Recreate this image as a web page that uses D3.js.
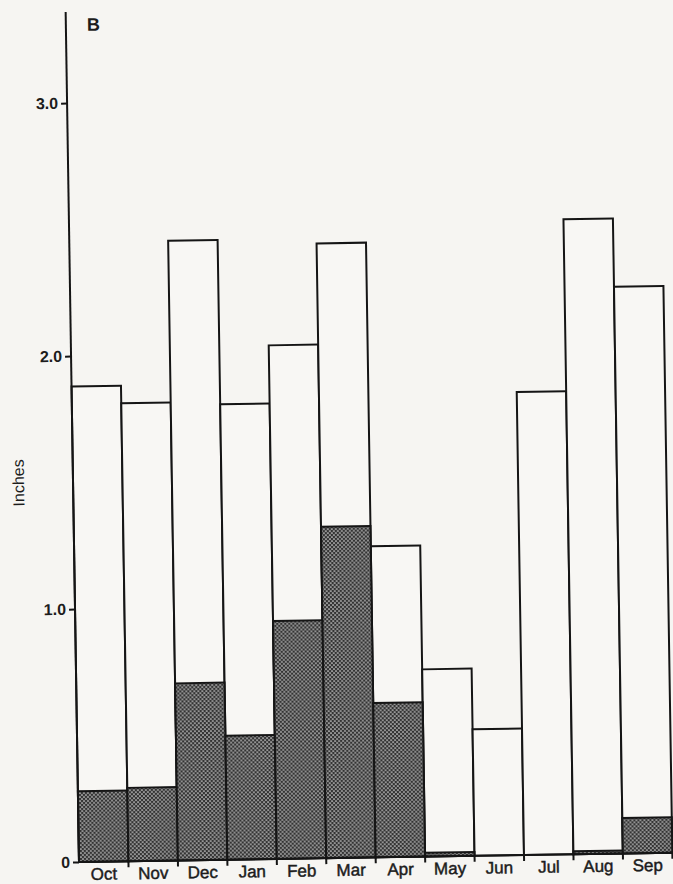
<!DOCTYPE html>
<html>
<head>
<meta charset="utf-8">
<script src="https://cdn.jsdelivr.net/npm/d3@7"></script>
<style>
  html, body { margin: 0; padding: 0; background: #f6f5f2; }
  svg { display: block; }
  text { font-family: "Liberation Sans", Arial, Helvetica, sans-serif; fill: #1c1c1c; }
</style>
</head>
<body>
<svg id="chart" width="673" height="884"></svg>
<script>
// ---- data ----
const months = ["Oct", "Nov", "Dec", "Jan", "Feb", "Mar", "Apr", "May", "Jun", "Jul", "Aug", "Sep"];
const totalInches = [1.88, 1.81, 2.45, 1.80, 2.03, 2.43, 1.23, 0.74, 0.50, 1.83, 2.51, 2.24];
const shadedInches = [0.28, 0.29, 0.70, 0.49, 0.94, 1.31, 0.61, 0.015, 0, 0, 0.012, 0.14];
const yTicks = [0, 1, 2, 3];
const panelLabel = "B";
const yTitle = "Inches";

const svg = d3.select("#chart");
svg.append("rect").attr("width", 673).attr("height", 884).attr("fill", "#f6f5f2");

const defs = svg.append("defs");
const pat = defs.append("pattern")
  .attr("id", "dots").attr("patternUnits", "userSpaceOnUse")
  .attr("width", 4).attr("height", 4);
pat.append("rect").attr("width", 4).attr("height", 4).attr("fill", "#333333");
pat.append("circle").attr("cx", 1).attr("cy", 1).attr("r", 0.85).attr("fill", "#e6e6e6");
pat.append("circle").attr("cx", 3).attr("cy", 3).attr("r", 0.85).attr("fill", "#e6e6e6");

const originX = 79, originY = 862;
// scanned page is slightly rotated
const g = svg.append("g").attr("transform", `rotate(-0.9, ${originX}, ${originY})`);

const x = d3.scaleBand().domain(months).range([originX, 672.4]).padding(0);
const pxPerInch = 253;
const yMax = 3.36;
const y = d3.scaleLinear().domain([0, yMax]).range([originY, originY - yMax * pxPerInch]);

const data = months.map((m, i) => ({ m, total: totalInches[i], shaded: shadedInches[i] }));

// total bars (white)
g.selectAll("rect.total").data(data).join("rect")
  .attr("class", "total")
  .attr("x", d => x(d.m))
  .attr("width", x.bandwidth())
  .attr("y", d => y(d.total))
  .attr("height", d => y(0) - y(d.total))
  .attr("fill", "#f8f7f4")
  .attr("stroke", "#151515").attr("stroke-width", 2);

// shaded part
g.selectAll("rect.shade").data(data.filter(d => d.shaded > 0)).join("rect")
  .attr("class", "shade")
  .attr("x", d => x(d.m))
  .attr("width", x.bandwidth())
  .attr("y", d => y(d.shaded))
  .attr("height", d => y(0) - y(d.shaded))
  .attr("fill", "url(#dots)")
  .attr("stroke", "#151515").attr("stroke-width", 2);

// y axis
const yAxis = d3.axisLeft(y).tickValues(yTicks)
  .tickFormat(d => d === 0 ? "0" : d3.format(".1f")(d))
  .tickSize(6).tickPadding(3);
const ya = g.append("g").attr("transform", `translate(${originX},0)`).call(yAxis);
ya.select(".domain").attr("stroke", "#151515").attr("stroke-width", 2).attr("d", `M0,${y(0)}V${y(yMax)}`);
ya.selectAll(".tick line").attr("stroke", "#151515").attr("stroke-width", 2);
ya.selectAll(".tick text").attr("font-size", 16).attr("font-family", "Liberation Sans, Arial, sans-serif").attr("fill", "#1c1c1c").attr("font-weight", "bold");

// x axis: labels centered under bars
const xAxis = d3.axisBottom(x).tickSize(0).tickPadding(6);
const xa = g.append("g").attr("transform", `translate(0,${originY})`).call(xAxis);
xa.select(".domain").attr("stroke", "#151515").attr("stroke-width", 2).attr("d", `M${originX},0H${x.range()[1] + 2}`);
xa.selectAll(".tick text").attr("font-size", 17).attr("font-family", "Liberation Sans, Arial, sans-serif")
  .attr("fill", "#1c1c1c").attr("stroke", "#1c1c1c").attr("stroke-width", 0.45);

// boundary ticks between bars
const edges = months.map(m => x(m)).concat([x.range()[1]]);
g.selectAll("line.edge").data(edges.slice(1)).join("line")
  .attr("class", "edge")
  .attr("x1", d => d).attr("x2", d => d)
  .attr("y1", originY).attr("y2", originY + 6)
  .attr("stroke", "#151515").attr("stroke-width", 2);

// panel label
g.append("text").attr("x", 100).attr("y", 31).attr("font-size", 18).attr("font-weight", "bold").text(panelLabel);

// y title
g.append("text").attr("transform", "translate(30,482) rotate(-90)")
  .attr("text-anchor", "middle").attr("font-size", 16).text(yTitle);
</script>
</body>
</html>
